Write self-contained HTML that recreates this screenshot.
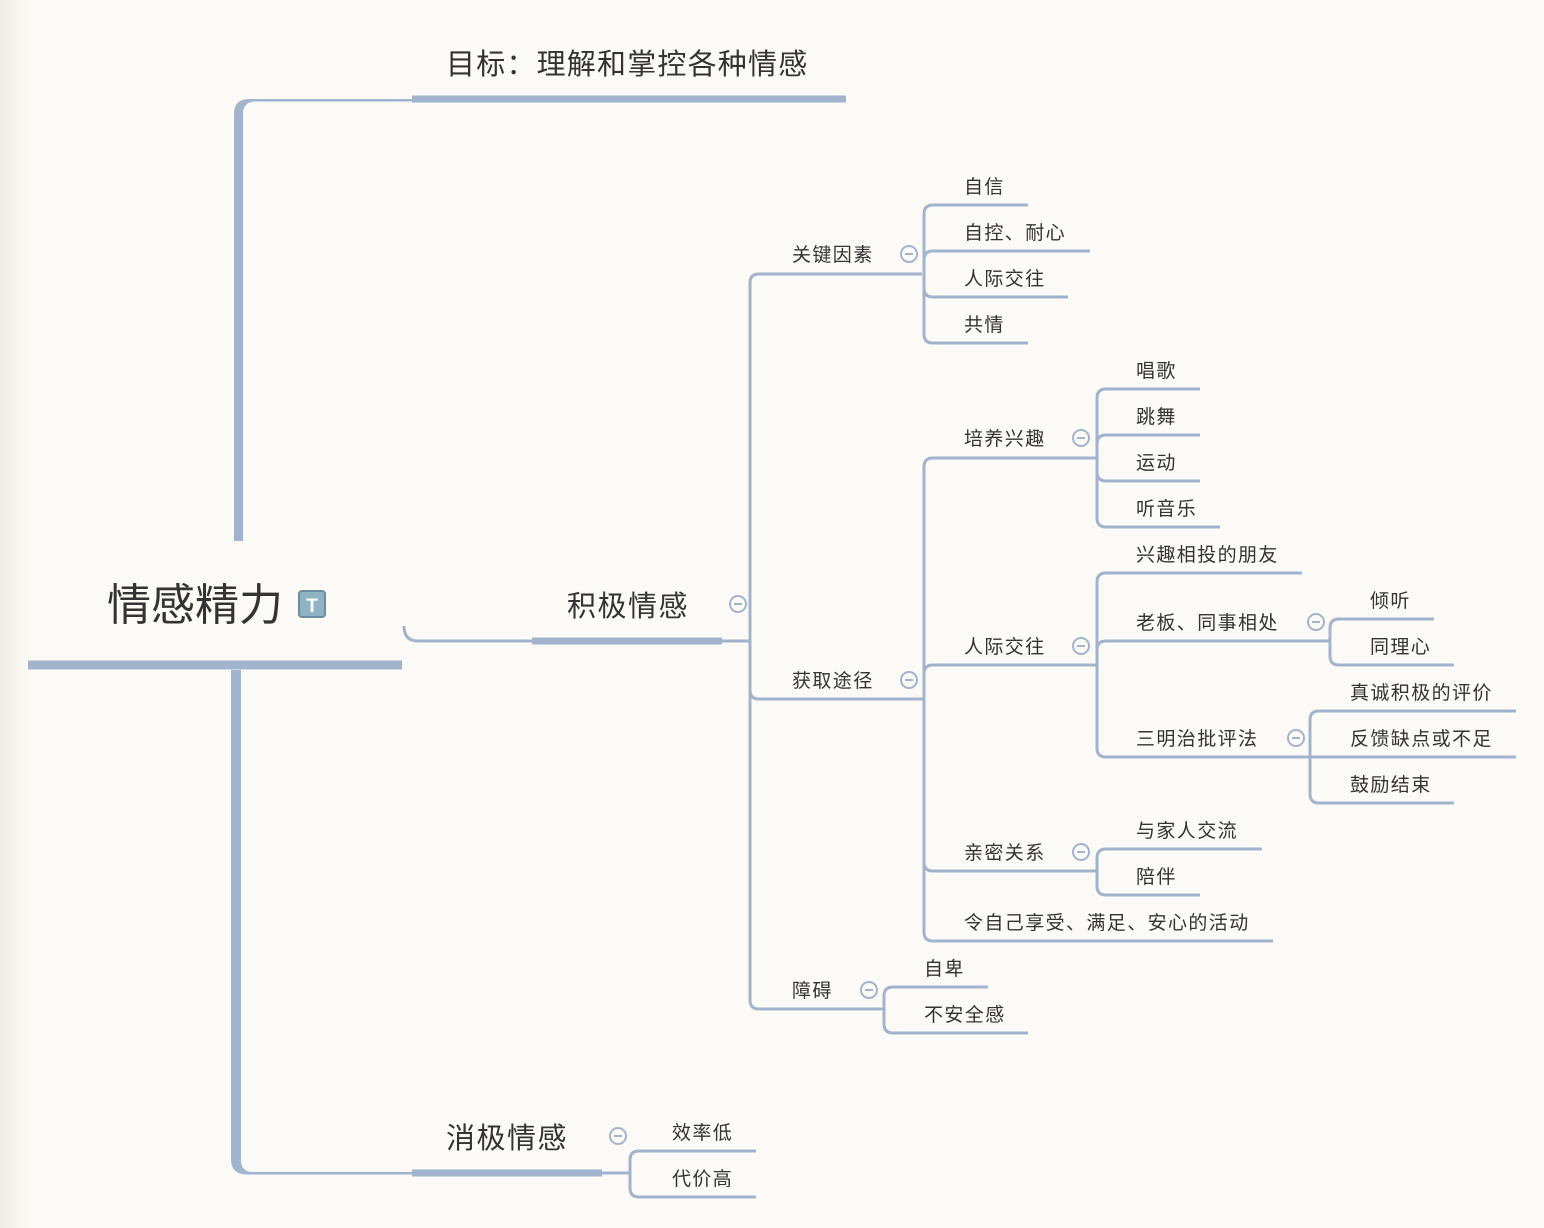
<!DOCTYPE html>
<html><head><meta charset="utf-8"><style>
html,body{margin:0;padding:0;}
body{width:1544px;height:1228px;overflow:hidden;background:linear-gradient(to right,#eeebe6 0px,#f8f6f1 18px,#fcfaf6 34px,#fcfaf6 100%);}
svg{position:absolute;left:0;top:0;}
text{font-family:"Liberation Sans","Noto Sans CJK SC",sans-serif;fill:#333;}
</style></head><body>
<svg width="1544" height="1228" viewBox="0 0 1544 1228">
<g fill="#a2b4cd" stroke="none">
<path d="M234 541 L234 114 Q234 99 249 99 L412 99 L412 101.5 L256 101.5 Q243 101.5 243 114 L243 541 Z"/>
<path d="M231 670 L231 1159 Q231 1174.5 247 1174.5 L412 1174.5 L412 1172 L253 1172 Q241 1172 241 1160 L241 670 Z"/>
</g>
<g fill="none" stroke="#a2b4cd" stroke-linecap="butt">
<line x1="28" y1="665" x2="402" y2="665" stroke-width="9"/>
<line x1="412" y1="99" x2="846" y2="99" stroke-width="7"/>
<line x1="412" y1="1173" x2="602" y2="1173" stroke-width="7"/>
<path d="M404 626 Q404 641 418 641 L532 641" stroke-width="3"/>
<line x1="532" y1="641" x2="722" y2="641" stroke-width="7"/>
<line x1="722" y1="641" x2="750" y2="641" stroke-width="3"/>
<g stroke-width="3">
<path d="M750 641 L750 283 Q750 274 759 274 L922 274"/>
<path d="M750 641 L750 690 Q750 699 759 699 L922 699"/>
<path d="M750 641 L750 1000 Q750 1009 759 1009 L884 1009"/>
<path d="M924 274 L924 214 Q924 205 933 205 L1028 205"/>
<path d="M924 274 L924 260 Q924 251 933 251 L1090 251"/>
<path d="M924 274 L924 288 Q924 297 933 297 L1068 297"/>
<path d="M924 274 L924 334 Q924 343 933 343 L1028 343"/>
<path d="M922 699 L924 699 L924 467 Q924 458 933 458 L1096 458"/>
<path d="M924 699 L924 674 Q924 665 933 665 L1096 665"/>
<path d="M924 699 L924 862 Q924 871 933 871 L1096 871"/>
<path d="M924 699 L924 932 Q924 941 933 941 L1273 941"/>
<path d="M1097 458 L1097 398 Q1097 389 1106 389 L1200 389"/>
<path d="M1097 458 L1097 444 Q1097 435 1106 435 L1200 435"/>
<path d="M1097 458 L1097 472 Q1097 481 1106 481 L1200 481"/>
<path d="M1097 458 L1097 518 Q1097 527 1106 527 L1220 527"/>
<path d="M1097 665 L1097 582 Q1097 573 1106 573 L1302 573"/>
<path d="M1097 665 L1097 650 Q1097 641 1106 641 L1328 641"/>
<path d="M1097 665 L1097 748 Q1097 757 1106 757 L1310 757"/>
<path d="M1328 641 L1330 641 L1330 628 Q1330 619 1339 619 L1434 619"/>
<path d="M1330 641 L1330 656 Q1330 665 1339 665 L1454 665"/>
<path d="M1310 757 L1310 720 Q1310 711 1319 711 L1516 711"/>
<path d="M1310 757 L1516 757"/>
<path d="M1310 757 L1310 794 Q1310 803 1319 803 L1454 803"/>
<path d="M1097 871 L1097 858 Q1097 849 1106 849 L1262 849"/>
<path d="M1097 871 L1097 886 Q1097 895 1106 895 L1200 895"/>
<path d="M884 1009 L884 996 Q884 987 893 987 L988 987"/>
<path d="M884 1009 L884 1024 Q884 1033 893 1033 L1028 1033"/>
<path d="M602 1173 L630 1173 L630 1160 Q630 1151 639 1151 L756 1151"/>
<path d="M630 1173 L630 1188 Q630 1197 639 1197 L756 1197"/>
</g>
</g>
<g fill="#fcfaf6" stroke="#a2b4cd" stroke-width="2">
<circle cx="738" cy="604" r="8"/><circle cx="909" cy="254" r="8"/><circle cx="909" cy="680" r="8"/>
<circle cx="1081" cy="438" r="8"/><circle cx="1081" cy="646" r="8"/><circle cx="1081" cy="852" r="8"/>
<circle cx="869" cy="990" r="8"/><circle cx="1316" cy="622" r="8"/><circle cx="1296" cy="738" r="8"/>
<circle cx="618" cy="1136" r="8"/>
</g>
<g stroke="#a2b4cd" stroke-width="2">
<line x1="734" y1="604" x2="742" y2="604"/><line x1="905" y1="254" x2="913" y2="254"/><line x1="905" y1="680" x2="913" y2="680"/>
<line x1="1077" y1="438" x2="1085" y2="438"/><line x1="1077" y1="646" x2="1085" y2="646"/><line x1="1077" y1="852" x2="1085" y2="852"/>
<line x1="865" y1="990" x2="873" y2="990"/><line x1="1312" y1="622" x2="1320" y2="622"/><line x1="1292" y1="738" x2="1300" y2="738"/>
<line x1="614" y1="1136" x2="622" y2="1136"/>
</g>
<rect x="299" y="591" width="26" height="26" rx="3" fill="#8fb3c2" stroke="#6d8d9c" stroke-width="2"/>
<text x="312" y="612" font-size="19" font-weight="bold" text-anchor="middle" style="fill:#fff">T</text>
<text x="107" y="620" font-size="44">情感精力</text>
<text x="446" y="74" font-size="29" letter-spacing="1.2">目标：理解和掌控各种情感</text>
<text x="567" y="616" font-size="29" letter-spacing="1.5">积极情感</text>
<text x="446" y="1148" font-size="29" letter-spacing="1.5">消极情感</text>
<g font-size="19" letter-spacing="1.4">
<text x="792" y="261">关键因素</text>
<text x="792" y="687">获取途径</text>
<text x="792" y="997">障碍</text>
<text x="964" y="193">自信</text>
<text x="964" y="239">自控、耐心</text>
<text x="964" y="285">人际交往</text>
<text x="964" y="331">共情</text>
<text x="964" y="445">培养兴趣</text>
<text x="964" y="653">人际交往</text>
<text x="964" y="859">亲密关系</text>
<text x="964" y="929">令自己享受、满足、安心的活动</text>
<text x="1136" y="377">唱歌</text>
<text x="1136" y="423">跳舞</text>
<text x="1136" y="469">运动</text>
<text x="1136" y="515">听音乐</text>
<text x="1136" y="561">兴趣相投的朋友</text>
<text x="1136" y="629">老板、同事相处</text>
<text x="1136" y="745">三明治批评法</text>
<text x="1370" y="607">倾听</text>
<text x="1370" y="653">同理心</text>
<text x="1350" y="699">真诚积极的评价</text>
<text x="1350" y="745">反馈缺点或不足</text>
<text x="1350" y="791">鼓励结束</text>
<text x="1136" y="837">与家人交流</text>
<text x="1136" y="883">陪伴</text>
<text x="924" y="975">自卑</text>
<text x="924" y="1021">不安全感</text>
<text x="672" y="1139">效率低</text>
<text x="672" y="1185">代价高</text>
</g>
</svg>
</body></html>
